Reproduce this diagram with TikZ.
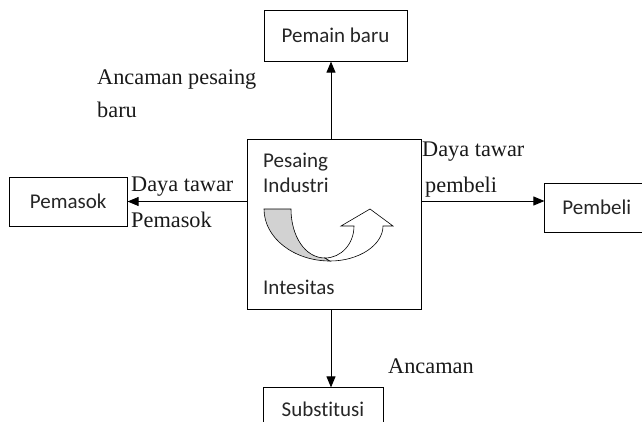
\documentclass[tikz,border=0pt]{standalone}
\usepackage{fontspec}
\setmainfont{Liberation Serif}
\newfontfamily\calibri[Ligatures=NoCommon]{Carlito}
\usetikzlibrary{arrows.meta,positioning}

\begin{document}
\begin{tikzpicture}[x=1pt,y=-1pt,>={Triangle[length=11pt,width=9pt]},
    box/.style={draw,line width=0.8pt,inner sep=0pt,text=black!85,
      font=\calibri\fontsize{21}{25}\selectfont},
    lbl/.style={inner sep=0pt,anchor=base west,text=black!90,
      font=\fontsize{22.3}{26}\selectfont},
    inlbl/.style={inner sep=0pt,anchor=base west,text=black!85,
      font=\calibri\fontsize{21}{25}\selectfont}]
  \useasboundingbox (0,0) rectangle (642,421);
  \clip (0,0) rectangle (642,421);

  \node[box,minimum width=174pt,minimum height=170pt] (ctr) at (334,224) {};
  \node[box,minimum width=143pt,minimum height=51pt] (pemain) [above=77pt of ctr, xshift=1.5pt] {Pemain baru};
  \node[box,minimum width=118pt,minimum height=49pt] (pemasok) [left=119pt of ctr, yshift=22.5pt] {Pemasok};
  \node[box,minimum width=104pt,minimum height=49pt] (pembeli) [right=123pt of ctr, yshift=16.5pt] {Pembeli};
  \node[box,minimum width=120pt,minimum height=42pt] (subst) [below=78pt of ctr, xshift=-11pt] {Substitusi};

  \coordinate (vaxis) at (331,0);
  \coordinate (haxis) at (0,201);

  \path[->,line width=0.9pt] (vaxis |- ctr.north) edge (vaxis |- pemain.south)
                             (vaxis |- ctr.south) edge (vaxis |- subst.north)
                             (ctr.west |- pemasok.east) edge (pemasok.east)
                             (haxis -| ctr.east) edge (haxis -| pembeli.west);

  % labels
  \node[lbl] (ancam1) at (97,84) {Ancaman pesaing};
  \node[lbl] (ancam2) at (97,117) {baru};
  \node[lbl] (dayal1) at (131,191) {Daya tawar};
  \node[lbl] (dayal2) at (131,227) {Pemasok};
  \node[lbl] (dayar1) at (422,156) {Daya tawar};
  \node[lbl] (dayar2) at (425,192) {pembeli};
  \node[lbl] (ancam3) at (388,373) {Ancaman};

  \node[inlbl] (pes1) at (263,167) {Pesaing};
  \node[inlbl] (pes2) at (263,192) {Industri};
  \node[inlbl] (intens) at (263,294) {Intesitas};

  % u-turn arrow
  \filldraw[fill=gray!35,line width=0.6pt] (264,209) -- (291,209)
    .. controls (291,236) and (305,258) .. (325,258) -- (330,261)
    .. controls (294,261) and (264,238) .. (264,209) -- cycle;
  \filldraw[fill=white,line width=0.6pt] (325,258)
    .. controls (341,258) and (354,244) .. (354,226) -- (341,226) -- (370,209)
    -- (393,226) -- (383,226)
    .. controls (383,245) and (359,261) .. (330,261) -- cycle;
\end{tikzpicture}
\end{document}
